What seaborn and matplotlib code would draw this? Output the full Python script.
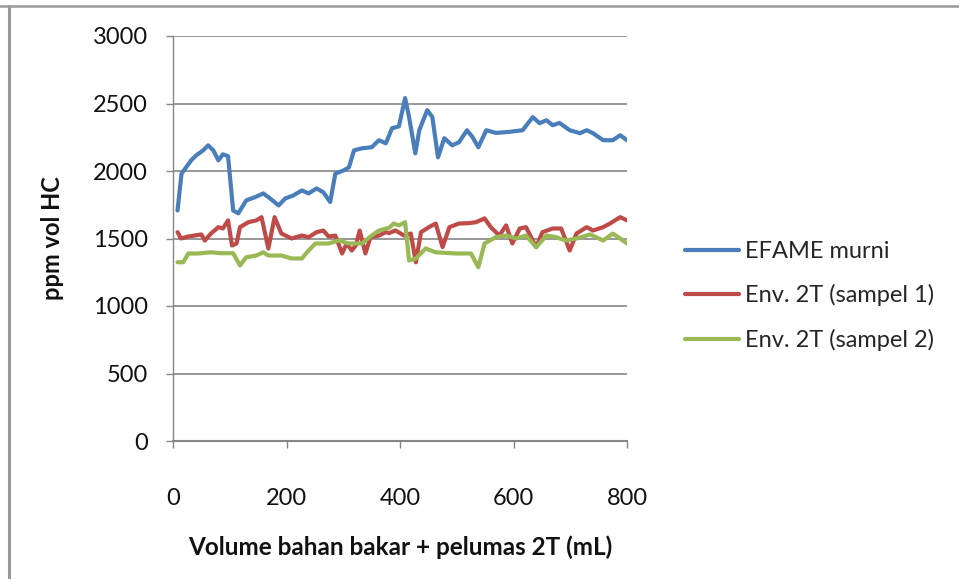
import numpy as np
import pandas as pd
import matplotlib
matplotlib.use("Agg")
import matplotlib.pyplot as plt
from matplotlib.lines import Line2D
import seaborn as sns

# ---- data ----
efame_x = [8, 15, 32, 41, 53, 62, 71, 80, 88, 97, 106, 115, 129, 145, 159, 171, 186, 198,
           212, 227, 239, 253, 265, 277, 286, 301, 310, 319, 333, 350, 363, 375, 386, 398,
           409, 416, 427, 434, 448, 457, 467, 478, 492, 504, 518, 528, 538, 552, 569, 593,
           616, 634, 646, 658, 669, 681, 699, 717, 729, 740, 758, 775, 788, 800]
efame_y = [1708, 1980, 2079, 2116, 2153, 2190, 2153, 2079, 2124, 2109, 1708, 1686, 1782, 1807,
           1834, 1797, 1745, 1797, 1819, 1856, 1834, 1871, 1842, 1770, 1980, 2005, 2027, 2153,
           2168, 2176, 2228, 2205, 2317, 2330, 2540, 2399, 2131, 2302, 2451, 2399, 2101, 2243,
           2190, 2213, 2302, 2250, 2176, 2302, 2282, 2290, 2302, 2399, 2354, 2376, 2339, 2356,
           2302, 2280, 2302, 2280, 2228, 2228, 2265, 2228]

s1_x = [8, 14, 27, 38, 50, 56, 67, 80, 88, 97, 104, 112, 118, 133, 147, 156, 168, 179, 191,
        209, 227, 239, 253, 265, 274, 286, 298, 306, 315, 322, 329, 339, 348, 363, 375, 381,
        392, 407, 419, 428, 437, 451, 463, 475, 487, 504, 522, 534, 549, 560, 575, 587, 598,
        611, 622, 640, 651, 669, 684, 699, 711, 729, 740, 758, 770, 788, 800]
s1_y = [1547, 1500, 1515, 1522, 1530, 1485, 1537, 1584, 1574, 1634, 1448, 1463, 1584, 1621,
        1634, 1658, 1426, 1658, 1537, 1500, 1522, 1510, 1547, 1559, 1515, 1522, 1389, 1463,
        1411, 1448, 1559, 1389, 1510, 1522, 1547, 1540, 1560, 1522, 1537, 1324, 1547, 1584,
        1611, 1436, 1584, 1611, 1614, 1621, 1649, 1584, 1522, 1597, 1463, 1574, 1584, 1436,
        1547, 1574, 1574, 1411, 1537, 1584, 1559, 1584, 1611, 1658, 1634]

s2_x = [8, 18, 27, 44, 67, 85, 106, 118, 129, 147, 159, 168, 191, 209, 227, 239, 251, 274,
        292, 310, 333, 350, 363, 381, 389, 398, 409, 416, 428, 445, 463, 499, 525, 538, 549,
        569, 587, 605, 622, 640, 658, 675, 692, 711, 735, 758, 775, 788, 800]
s2_y = [1324, 1324, 1389, 1389, 1398, 1391, 1391, 1300, 1361, 1374, 1398, 1374, 1374, 1352,
        1352, 1411, 1463, 1463, 1485, 1463, 1463, 1522, 1559, 1580, 1611, 1597, 1621, 1337,
        1352, 1426, 1398, 1389, 1389, 1287, 1463, 1510, 1522, 1500, 1522, 1436, 1522, 1510,
        1485, 1500, 1530, 1485, 1537, 1500, 1463]

series_names = ["EFAME murni", "Env. 2T (sampel 1)", "Env. 2T (sampel 2)"]
series_colors = ["#4A7EBB", "#BE4B48", "#98B954"]
x_ticks = [0, 200, 400, 600, 800]
y_ticks = [0, 500, 1000, 1500, 2000, 2500, 3000]
x_label = "Volume bahan bakar + pelumas 2T (mL)"
y_label = "ppm vol HC"

df = pd.concat([
    pd.DataFrame({"x": efame_x, "y": efame_y, "series": series_names[0]}),
    pd.DataFrame({"x": s1_x, "y": s1_y, "series": series_names[1]}),
    pd.DataFrame({"x": s2_x, "y": s2_y, "series": series_names[2]}),
], ignore_index=True)

sns.set_theme(style="white")
plt.rcParams["font.family"] = ["Lato", "DejaVu Sans"]

W, H = 959, 579
fig = plt.figure(figsize=(W / 100, H / 100), dpi=100)
ax = fig.add_axes([173 / W, 1 - 441 / H, (627 - 173) / W, (441 - 36) / H])

sns.lineplot(data=df, x="x", y="y", hue="series", palette=series_colors,
             hue_order=series_names, linewidth=3.0, sort=False, estimator=None,
             ax=ax, legend=False)

grid_c = "#868686"
ax.set_xlim(0, 800)
ax.set_ylim(0, 3000)
ax.set_xticks(x_ticks)
ax.set_yticks(y_ticks)
ax.set_xticklabels([str(v) for v in x_ticks])
ax.set_yticklabels([str(v) for v in y_ticks])
ax.yaxis.grid(True, color=grid_c, linewidth=1.2)
ax.xaxis.grid(False)
ax.set_axisbelow(True)
for side in ["top", "right"]:
    ax.spines[side].set_visible(False)
ax.spines["left"].set_color(grid_c)
ax.spines["left"].set_linewidth(1.0)
ax.spines["bottom"].set_color(grid_c)
ax.spines["bottom"].set_linewidth(1.5)

ax.tick_params(axis="y", direction="out", length=5, width=1, color=grid_c,
               pad=13, labelsize=17, labelcolor="#111111", left=True)
ax.tick_params(axis="x", direction="out", length=5, width=1, color=grid_c,
               pad=29, labelsize=17, labelcolor="#111111", bottom=True)

ax.set_xlabel(x_label, fontsize=17.5, fontweight="bold", color="#111111")
ax.set_ylabel(y_label, fontsize=17, fontweight="bold", color="#111111")
ax.xaxis.set_label_coords(0.5, -0.232)
ax.yaxis.set_label_coords(-0.24, 0.5)

handles = [Line2D([0], [0], color=c, linewidth=3.0) for c in series_colors]
fig.legend(handles, series_names, loc="center left", bbox_to_anchor=(685 / W, 1 - 296 / H),
           frameon=False, fontsize=17, handlelength=2.3, handletextpad=0.25,
           labelspacing=0.95, borderpad=0, borderaxespad=0)

# figure border (top and left)
fig.add_artist(Line2D([0, 1], [1 - 6 / H, 1 - 6 / H], transform=fig.transFigure,
                      color="#999999", linewidth=1.8))
fig.add_artist(Line2D([9 / W, 9 / W], [0, 1 - 6 / H], transform=fig.transFigure,
                      color="#999999", linewidth=2.2))

fig.savefig("out.png", dpi=100, facecolor="white")
